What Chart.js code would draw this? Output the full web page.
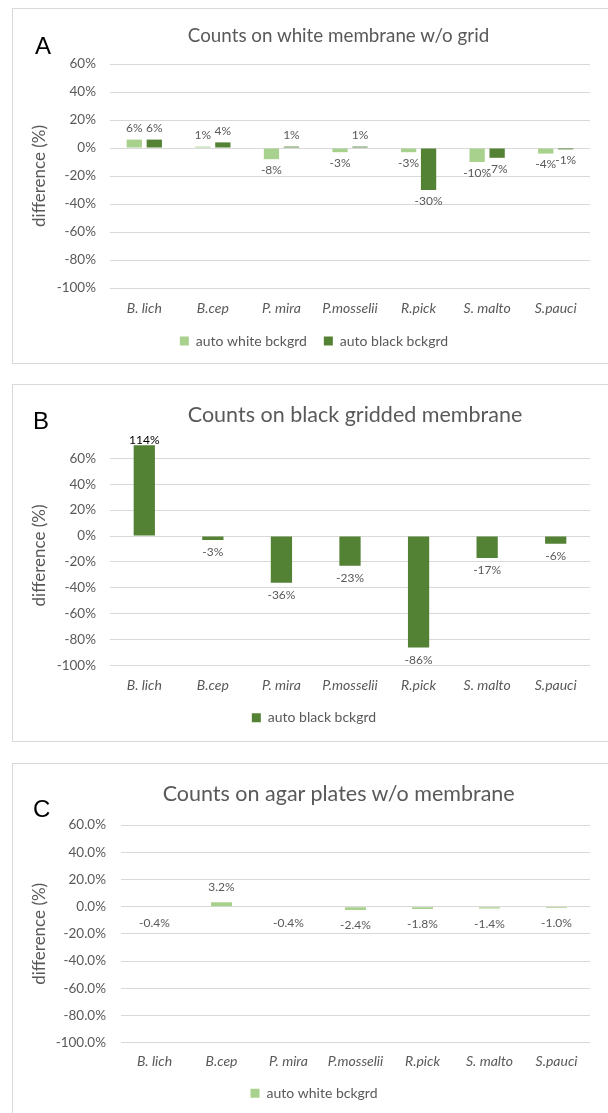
<!DOCTYPE html>
<html>
<head>
<meta charset="utf-8">
<script src="https://cdn.jsdelivr.net/npm/chart.js@4/dist/chart.umd.min.js"></script>
<style>
  html, body { margin: 0; padding: 0; background: #fff; }
  body { width: 608px; height: 1113px; position: relative; overflow: hidden; font-family: Lato, "Noto Sans", sans-serif; }
  .panel { position: absolute; left: 12px; width: 620px; border: 1px solid #D9D9D9; box-sizing: border-box; }
  .letter { position: absolute; font: 24px/1 "Liberation Sans", Arial, sans-serif; color: #000; }
  .title { position: absolute; width: 600px; text-align: center; line-height: 1; color: #595959; white-space: nowrap; }
  canvas { position: absolute; left: 0; }
</style>
</head>
<body>
<div class="panel" style="top:8px;height:356px"></div>
<div class="panel" style="top:384px;height:358px"></div>
<div class="panel" style="top:763px;height:400px"></div>

<canvas id="chartA" width="608" height="372" style="top:0px"></canvas>
<canvas id="chartB" width="608" height="380" style="top:372px"></canvas>
<canvas id="chartC" width="608" height="361" style="top:752px"></canvas>

<div class="letter" style="left:35px;top:33.6px">A</div>
<div class="letter" style="left:33px;top:408.6px">B</div>
<div class="letter" style="left:33px;top:797.4px">C</div>

<div class="title" style="left:38.5px;top:25.6px;font-size:18.8px">Counts on white membrane w/o grid</div>
<div class="title" style="left:55px;top:403.6px;font-size:21.5px">Counts on black gridded membrane</div>
<div class="title" style="left:38.7px;top:783.2px;font-size:21.5px">Counts on agar plates w/o membrane</div>

<script>
// Strains on the category axis
const categories = ['B. lich', 'B.cep', 'P. mira', 'P.mosselii', 'R.pick', 'S. malto', 'S.pauci'];

// Difference in counts (%) per strain
const whiteMembraneAutoWhite = [6, 1, -8, -3, -3, -10, -4];
const whiteMembraneAutoBlack = [6, 4, 1, 1, -30, -7, -1];
const griddedMembraneAutoBlack = [114, -3, -36, -23, -86, -17, -6];
const agarAutoWhite = [-0.4, 3.2, -0.4, -2.4, -1.8, -1.4, -1.0];

// Value-axis ticks
const differenceTicks = [-100, -80, -60, -40, -20, 0, 20, 40, 60];

const LIGHT_GREEN = '#A9D18E';
const DARK_GREEN = '#548235';
const TEXT_GREY = '#595959';
const GRID_GREY = '#D9D9D9';

// Writes each bar's value just past its end; a bar that runs off the top of
// the axis gets its label tucked against the edge in black.
const valueLabels = {
  id: 'valueLabels',
  afterDatasetsDraw(chart, args, opts) {
    const { ctx, chartArea } = chart;
    ctx.save();
    ctx.font = '12px Lato';
    ctx.textAlign = 'center';
    ctx.textBaseline = 'middle';
    chart.data.datasets.forEach((ds, i) => {
      chart.getDatasetMeta(i).data.forEach((bar, j) => {
        const v = ds.data[j];
        let y;
        if (bar.y < chartArea.top) {
          y = chartArea.top - 5;
          ctx.fillStyle = '#000';
        } else {
          y = v >= 0 ? bar.y - opts.offset : bar.y + opts.offset;
          ctx.fillStyle = TEXT_GREY;
        }
        ctx.fillText(v.toFixed(opts.decimals) + '%', bar.x, y);
      });
    });
    ctx.restore();
  }
};

function makeChart(id, cfg) {
  return new Chart(document.getElementById(id), {
    type: 'bar',
    data: { labels: categories, datasets: cfg.datasets },
    options: {
      responsive: false,
      animation: false,
      layout: { padding: { left: 38, right: 18, top: cfg.top, bottom: cfg.bottom } },
      plugins: {
        title: { display: false },
        tooltip: { enabled: false },
        legend: {
          position: 'bottom',
          labels: {
            boxWidth: 9, boxHeight: 9, padding: cfg.legendPad,
            color: TEXT_GREY,
            font: { family: 'Lato', size: 14 }
          }
        },
        valueLabels: { offset: cfg.labelOffset, decimals: cfg.decimals }
      },
      scales: {
        x: {
          grid: { display: false, drawTicks: false },
          border: { display: false },
          ticks: {
            padding: cfg.xPad, maxRotation: 0, autoSkip: false,
            color: TEXT_GREY,
            font: { family: 'Lato', size: 14, style: 'italic' }
          },
          afterFit: (s) => { s.height = cfg.xHeight; }
        },
        y: {
          min: -100,
          max: cfg.max,
          grid: { color: GRID_GREY, lineWidth: 1, drawTicks: false },
          border: { display: false },
          afterBuildTicks: (s) => { s.ticks = differenceTicks.map(v => ({ value: v })); },
          ticks: {
            padding: cfg.tickPad,
            color: TEXT_GREY,
            font: { family: 'Lato', size: 13.5 },
            callback: (v) => Number(v).toFixed(cfg.decimals) + '%'
          },
          title: {
            display: true,
            text: 'difference (%)',
            color: TEXT_GREY,
            font: { family: 'Lato', size: 17 },
            // pull the axis title in toward the panel edge
            padding: { top: -8.7, bottom: 0 }
          },
          afterFit: (s) => { s.width = cfg.yWidth; }
        }
      }
    },
    plugins: [valueLabels]
  });
}

makeChart('chartA', {
  top: 64, bottom: 14, xHeight: 29, xPad: 11.6, legendPad: 17, max: 60, yWidth: 72, tickPad: 14,
  labelOffset: 11, decimals: 0,
  datasets: [
    { label: 'auto white bckgrd', data: whiteMembraneAutoWhite, backgroundColor: LIGHT_GREEN,
      categoryPercentage: 0.583, barPercentage: 0.765, clip: 0 },
    { label: 'auto black bckgrd', data: whiteMembraneAutoBlack, backgroundColor: DARK_GREEN,
      categoryPercentage: 0.583, barPercentage: 0.765, clip: 0 }
  ]
});

makeChart('chartB', {
  top: 73.3, bottom: 17.3, xHeight: 28, xPad: 10.9, legendPad: 17, max: 70, yWidth: 72, tickPad: 14,
  labelOffset: 12.5, decimals: 0,
  datasets: [
    { label: 'auto black bckgrd', data: griddedMembraneAutoBlack, backgroundColor: DARK_GREEN,
      categoryPercentage: 0.31, barPercentage: 1, clip: 0 }
  ]
});

makeChart('chartC', {
  top: 73, bottom: 2.8, xHeight: 27.5, xPad: 10.6, legendPad: 16, max: 60, yWidth: 83, tickPad: 15,
  labelOffset: 15.5, decimals: 1,
  datasets: [
    { label: 'auto white bckgrd', data: agarAutoWhite, backgroundColor: LIGHT_GREEN,
      categoryPercentage: 0.313, barPercentage: 1, clip: 0 }
  ]
});
</script>
</body>
</html>
